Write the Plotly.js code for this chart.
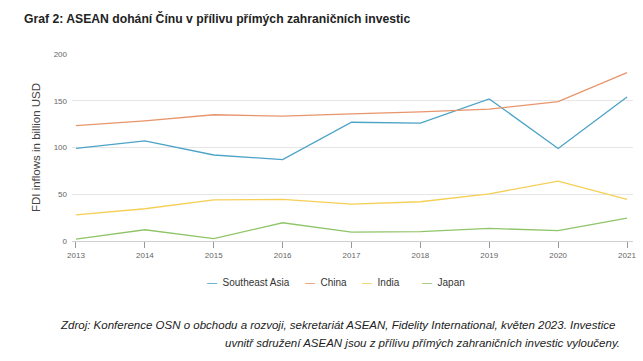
<!DOCTYPE html>
<html>
<head>
<meta charset="utf-8">
<script src="https://cdn.plot.ly/plotly-3.0.1.min.js"></script>
<style>html,body{margin:0;padding:0;background:#fff;}#chart{width:643px;height:361px;}</style>
</head>
<body>
<div id="chart"></div>
<script>
const years = [2013, 2014, 2015, 2016, 2017, 2018, 2019, 2020, 2021];
const seriesNames = ["Southeast Asia", "China", "India", "Japan"];
const southeastAsia = [99, 107, 92, 87, 127, 126, 152, 99, 154];
const china = [123.5, 128.5, 135, 133.5, 136, 138, 141, 149, 180];
const india = [28, 34.5, 44, 44.5, 39.5, 42, 50.5, 64, 44.5];
const japan = [2, 12, 2.5, 19.5, 9.5, 10, 13.5, 11, 24.5];
const yTicks = [0, 50, 100, 150, 200];
const colors = ["#4ba3c7", "#e8956b", "#f5cf55", "#8fc568"];
const values = [southeastAsia, china, india, japan];
const sourceLines = [
  "Zdroj: Konference OSN o obchodu a rozvoji, sekretariát ASEAN, Fidelity International, květen 2023. Investice",
  "uvnitř sdružení ASEAN jsou z přílivu přímých zahraničních investic vyloučeny."
];

const traces = values.map((v, i) => ({
  x: years, y: v, type: "scatter", mode: "lines", name: seriesNames[i],
  line: {color: colors[i], width: 1.3}, showlegend: false, hoverinfo: "skip"
}));

const font = "Liberation Sans, Arial, sans-serif";
const legendX = [205, 303, 360, 420];
const annotations = [];
seriesNames.forEach((n, i) => {
  annotations.push({
    xref: "paper", yref: "paper",
    x: (legendX[i] - 72) / 561, y: (241 - 282) / 187,
    xanchor: "left", yanchor: "middle", showarrow: false,
    text: '<span style="color:' + colors[i] + '">—</span>  ' + n,
    font: {family: font, size: 10, color: "#333"}
  });
});
const srcRight = [617, 622];
const srcY = [325, 343];
sourceLines.forEach((t, i) => {
  annotations.push({
    xref: "paper", yref: "paper", x: (srcRight[i] - 72) / 561, y: (241 - srcY[i]) / 187,
    xanchor: "right", yanchor: "middle", showarrow: false,
    text: "<i>" + t + "</i>",
    font: {family: font, size: 11.5, color: "#222"}
  });
});

const layout = {
  width: 643, height: 361,
  margin: {l: 72, r: 10, t: 54, b: 120},
  paper_bgcolor: "#fff", plot_bgcolor: "#fff",
  title: {text: "<b>Graf 2: ASEAN dohání Čínu v přílivu přímých zahraničních investic</b>",
    x: 24 / 643, xanchor: "left", y: 1 - 19 / 361, yanchor: "middle", yref: "container",
    font: {family: font, size: 12.2, color: "#222"}},
  xaxis: {
    range: [2012.942, 2021.087], tickvals: years, ticktext: years.map(String),
    showgrid: false, zeroline: false, showline: true, linecolor: "#cfcfcf", linewidth: 1,
    ticks: "outside", ticklen: 6, tickcolor: "#999", tickwidth: 1,
    tickfont: {family: font, size: 8, color: "#666"}, fixedrange: true
  },
  yaxis: {
    range: [0, 200], tickvals: yTicks, showgrid: true, gridcolor: "#e6e6e6", zeroline: false,
    showline: false, ticks: "", ticklabelstandoff: 4,
    tickfont: {family: font, size: 8, color: "#666"},
    title: {text: "FDI inflows in billion USD", font: {family: font, size: 11.5, color: "#444"}, standoff: 10}
  },
  annotations: annotations,
  showlegend: false
};
Plotly.newPlot("chart", traces, layout, {staticPlot: true, displayModeBar: false});
</script>
</body>
</html>
